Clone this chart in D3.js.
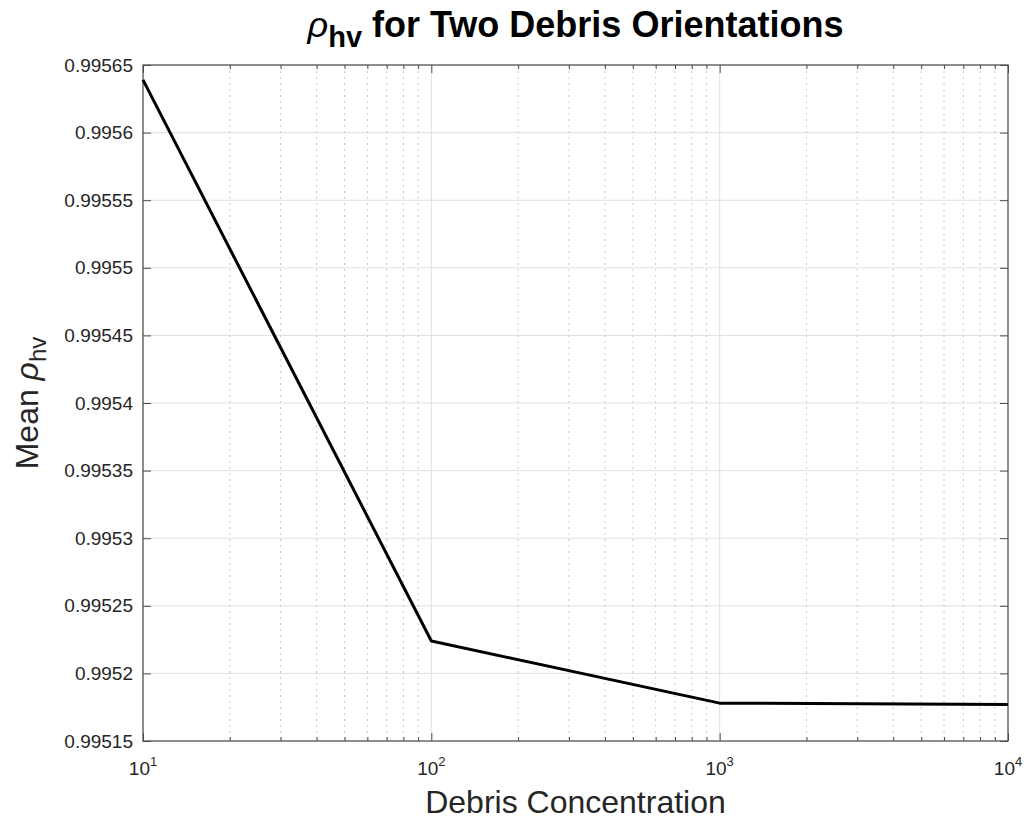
<!DOCTYPE html>
<html>
<head>
<meta charset="utf-8">
<script src="https://cdn.jsdelivr.net/npm/d3@7"></script>
<style>
  html, body { margin: 0; padding: 0; background: #fff; }
  svg { display: block; font-family: "Liberation Sans", Arial, Helvetica, sans-serif; }
</style>
</head>
<body>
<svg id="chart" width="1028" height="820"></svg>
<script>
// Mean rho_hv versus debris concentration (log x axis)
const concentration = [10, 100, 1000, 10000];
const meanRhoHv = [0.995639, 0.995224, 0.995178, 0.995177];

const yTickValues = [0.99515, 0.9952, 0.99525, 0.9953, 0.99535, 0.9954,
                     0.99545, 0.9955, 0.99555, 0.9956, 0.99565];
const yTickLabels = ["0.99515", "0.9952", "0.99525", "0.9953", "0.99535", "0.9954",
                     "0.99545", "0.9955", "0.99555", "0.9956", "0.99565"];
const xMajorTicks = [10, 100, 1000, 10000];
const xTickExponents = ["1", "2", "3", "4"];
const xMinorMultipliers = [2, 3, 4, 5, 6, 7, 8, 9];

const plot = { left: 143, right: 1008, top: 65, bottom: 741 };

const svg = d3.select("#chart");

const x = d3.scaleLog().domain([10, 10000]).range([plot.left, plot.right]);
const y = d3.scaleLinear().domain([0.99515, 0.99565]).range([plot.bottom, plot.top]);

const xMinorTicks = [];
xMajorTicks.slice(0, -1).forEach(d => xMinorMultipliers.forEach(m => xMinorTicks.push(d * m)));

// grid
const grid = svg.append("g");
grid.selectAll("line.ygrid").data(yTickValues).join("line")
  .attr("x1", plot.left).attr("x2", plot.right)
  .attr("y1", d => y(d)).attr("y2", d => y(d))
  .attr("stroke", "#e0e0e0").attr("stroke-width", 1);
grid.selectAll("line.xminor").data(xMinorTicks).join("line")
  .attr("x1", d => x(d)).attr("x2", d => x(d))
  .attr("y1", plot.top).attr("y2", plot.bottom)
  .attr("stroke", "#c8c8c8").attr("stroke-width", 1)
  .attr("stroke-dasharray", "2,4");
grid.selectAll("line.xmajor").data(xMajorTicks).join("line")
  .attr("x1", d => x(d)).attr("x2", d => x(d))
  .attr("y1", plot.top).attr("y2", plot.bottom)
  .attr("stroke", "#e0e0e0").attr("stroke-width", 1);

// axes with inward ticks on all four sides
const axisColor = "#4d4d4d";
function styleAxis(g) {
  g.select(".domain").remove();
  g.selectAll(".tick line").attr("stroke", axisColor).attr("stroke-width", 1);
  g.selectAll(".tick text").remove();
}
svg.append("g").attr("transform", `translate(0,${plot.bottom})`)
  .call(d3.axisBottom(x).tickValues(xMajorTicks).tickSizeInner(-8).tickSizeOuter(0)).call(styleAxis);
svg.append("g").attr("transform", `translate(0,${plot.bottom})`)
  .call(d3.axisBottom(x).tickValues(xMinorTicks).tickSizeInner(-4).tickSizeOuter(0)).call(styleAxis);
svg.append("g").attr("transform", `translate(0,${plot.top})`)
  .call(d3.axisTop(x).tickValues(xMajorTicks).tickSizeInner(-8).tickSizeOuter(0)).call(styleAxis);
svg.append("g").attr("transform", `translate(0,${plot.top})`)
  .call(d3.axisTop(x).tickValues(xMinorTicks).tickSizeInner(-4).tickSizeOuter(0)).call(styleAxis);
svg.append("g").attr("transform", `translate(${plot.left},0)`)
  .call(d3.axisLeft(y).tickValues(yTickValues).tickSizeInner(-8).tickSizeOuter(0)).call(styleAxis);
svg.append("g").attr("transform", `translate(${plot.right},0)`)
  .call(d3.axisRight(y).tickValues(yTickValues).tickSizeInner(-8).tickSizeOuter(0)).call(styleAxis);

svg.append("rect")
  .attr("x", plot.left).attr("y", plot.top)
  .attr("width", plot.right - plot.left).attr("height", plot.bottom - plot.top)
  .attr("fill", "none").attr("stroke", axisColor).attr("stroke-width", 1.2);

// data line
const line = d3.line().x((d, i) => x(concentration[i])).y(d => y(d));
svg.append("path").datum(meanRhoHv)
  .attr("d", line)
  .attr("fill", "none").attr("stroke", "#000").attr("stroke-width", 3)
  .attr("stroke-linejoin", "round");

// tick labels
const labelColor = "#262626";
svg.append("g").selectAll("text").data(yTickValues).join("text")
  .attr("x", plot.left - 10).attr("y", d => y(d))
  .attr("dy", "0.35em").attr("text-anchor", "end")
  .attr("font-size", 19).attr("fill", labelColor)
  .text((d, i) => yTickLabels[i]);

const xl = svg.append("g").selectAll("text").data(xMajorTicks).join("text")
  .attr("x", d => x(d)).attr("y", plot.bottom + 34)
  .attr("text-anchor", "middle").attr("fill", labelColor);
xl.append("tspan").attr("font-size", 19).text("10");
xl.append("tspan").attr("font-size", 13).attr("dy", -9).text((d, i) => xTickExponents[i]);

// axis titles
svg.append("text")
  .attr("x", (plot.left + plot.right) / 2).attr("y", plot.bottom + 72)
  .attr("text-anchor", "middle").attr("font-size", 32).attr("fill", labelColor)
  .text("Debris Concentration");

const yt = svg.append("text")
  .attr("transform", `translate(38,${(plot.top + plot.bottom) / 2}) rotate(-90)`)
  .attr("text-anchor", "middle").attr("font-size", 32).attr("fill", labelColor);
yt.append("tspan").text("Mean ");
yt.append("tspan").attr("font-style", "italic").text("ρ");
yt.append("tspan").attr("font-size", 24).attr("dy", 8).text("hv");

// chart title
const title = svg.append("text")
  .attr("x", (plot.left + plot.right) / 2).attr("y", 37)
  .attr("text-anchor", "middle").attr("font-size", 36).attr("fill", "#000");
title.append("tspan").attr("font-style", "italic").text("ρ");
title.append("tspan").attr("font-weight", "bold").attr("font-size", 29).attr("dy", 10).text("hv");
title.append("tspan").attr("font-weight", "bold").attr("dy", -10).text(" for Two Debris Orientations");
</script>
</body>
</html>
